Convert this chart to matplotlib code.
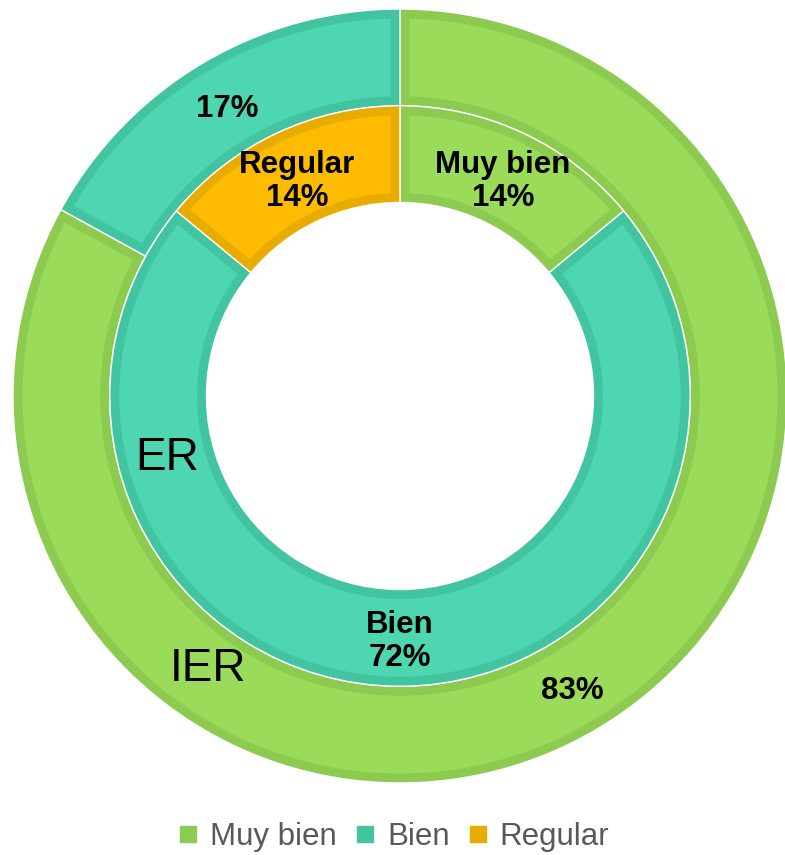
import numpy as np
import matplotlib
matplotlib.use("Agg")
import matplotlib.pyplot as plt
import matplotlib.transforms as mtransforms
from matplotlib.lines import Line2D
from matplotlib.patches import Polygon

plt.rcParams["font.family"] = ["Liberation Sans", "DejaVu Sans"]

# data
categories = ["Muy bien", "Bien", "Regular"]
outer_name = "IER"
outer_values = [83, 17]            # Muy bien, Bien
inner_name = "ER"
inner_values = [14, 72, 14]        # Muy bien, Bien, Regular

FILL = {"Muy bien": "#9ADC5A", "Bien": "#4DD6B1", "Regular": "#FFBB00"}
EDGE = {"Muy bien": "#8CCA50", "Bien": "#43C4A1", "Regular": "#E8AB00"}

fig = plt.figure(figsize=(7.85, 8.55), dpi=100)
W, H = 785, 855
cx, cy, R = 400, 396, 387
ax = fig.add_axes([(cx - R) / W, (H - cy - R) / H, 2 * R / W, 2 * R / H])

BORDER = 9.5 / R   # inset border width in data units


def inset_poly(w, d):
    """Region of the ring wedge at least d away from its edges."""
    r_out, r_in = w.r - d, w.r - w.width + d
    a1, a2 = np.deg2rad(w.theta1), np.deg2rad(w.theta2)
    ta = np.linspace(a1 + np.arcsin(d / r_out), a2 - np.arcsin(d / r_out), 200)
    tb = np.linspace(a2 - np.arcsin(d / r_in), a1 + np.arcsin(d / r_in), 200)
    pts = np.vstack([np.column_stack([r_out * np.cos(ta), r_out * np.sin(ta)]),
                     np.column_stack([r_in * np.cos(tb), r_in * np.sin(tb)])])
    return pts


def ring(values, radius, width, names):
    wedges, _ = ax.pie(values, radius=radius, startangle=90, counterclock=False,
                       colors=[EDGE[n] for n in names],
                       wedgeprops=dict(width=width, linewidth=1.0, edgecolor="white"))
    for w, n in zip(wedges, names):
        ax.add_patch(Polygon(inset_poly(w, BORDER), closed=True,
                             facecolor=FILL[n], edgecolor="none"))
    return wedges


outer = ring(outer_values, 1.0, 0.25, categories[:2])
inner = ring(inner_values, 0.75, 0.25, categories)

ax.set_xlim(-1, 1)
ax.set_ylim(-1, 1)
ax.set_aspect("equal")
ax.axis("off")


def mid(w):
    a = np.deg2rad((w.theta1 + w.theta2) / 2)
    return np.cos(a), np.sin(a)


# nudge labels down a little so the glyphs (not the text box) sit centred
shifted = mtransforms.offset_copy(ax.transData, fig=fig, x=0, y=-4, units="dots")
lab_kw = dict(ha="center", va="center", fontsize=22.5, fontweight="bold",
              color="black", linespacing=1.12, transform=shifted)

for w, v in zip(outer, outer_values):
    x, y = mid(w)
    ax.text(0.875 * x, 0.875 * y, f"{v}%", **lab_kw)

for w, n, v in zip(inner, categories, inner_values):
    x, y = mid(w)
    ax.text(0.625 * x, 0.625 * y, f"{n}\n{v}%", **lab_kw)

# series names
for name, r, ang in [(inner_name, 0.62, 194), (outer_name, 0.855, 234.5)]:
    a = np.deg2rad(ang)
    ax.text(r * np.cos(a), r * np.sin(a), name, ha="center", va="center",
            fontsize=33, color="black", transform=shifted)

handles = [Line2D([], [], marker="s", linestyle="none", markersize=11.5,
                  markerfacecolor=EDGE[n], markeredgecolor=EDGE[n]) for n in categories]
fig.legend(handles, categories, loc="center", bbox_to_anchor=(0.5, 1 - 837 / H),
           ncol=3, frameon=False, fontsize=22.5, labelcolor="#595959",
           handletextpad=0.3, columnspacing=0.5, handlelength=0.8)

fig.savefig("out.png", dpi=100)
